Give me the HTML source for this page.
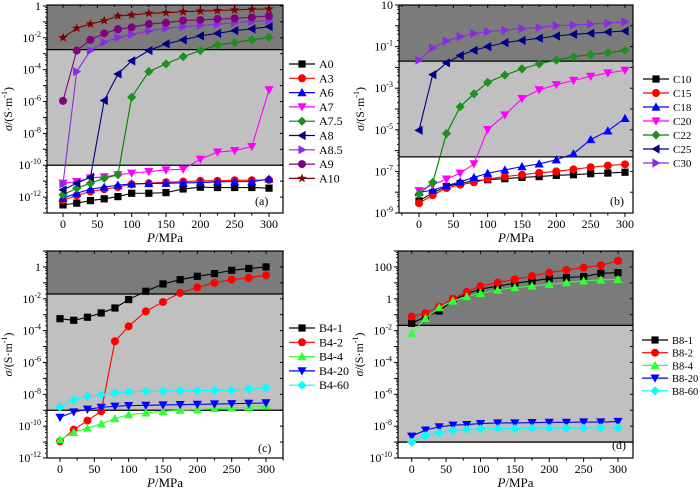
<!DOCTYPE html>
<html><head><meta charset="utf-8"><style>
body{margin:0;background:#fff}
svg{display:block;font-family:"Liberation Serif",serif}
</style></head><body>
<svg id="chart" width="700" height="493" viewBox="0 0 700 493" xmlns="http://www.w3.org/2000/svg"></svg>
<script>
const xValues=[0,20,40,60,80,100,125,150,175,200,225,250,275,300];
// Panel (a) log10 sigma
const aNames=["A0","A3","A6","A7","A7.5","A8","A8.5","A9","A10"];
const aA0=[-12.49,-12.38,-12.22,-12.11,-11.97,-11.76,-11.76,-11.72,-11.49,-11.38,-11.40,-11.40,-11.40,-11.44];
const aA3=[-12.2,-11.9,-11.65,-11.5,-11.38,-11.2,-11.13,-11.07,-11.03,-10.98,-10.98,-10.94,-10.94,-10.92];
const aA6=[-12.07,-11.76,-11.5,-11.38,-11.25,-11.17,-11.15,-11.13,-11.11,-11.09,-11.05,-11.03,-11.03,-10.86];
const aA7=[-11.13,-11.03,-10.8,-10.73,-10.6,-10.5,-10.4,-10.3,-10.25,-9.62,-9.18,-9.08,-8.83,-5.27];
const aA75=[-11.86,-11.44,-11.13,-10.82,-10.6,-5.73,-4.12,-3.64,-3.18,-2.8,-2.45,-2.3,-2.13,-1.97];
const aA8=[-11.55,-11.13,-10.75,-5.94,-4.27,-3.45,-2.8,-2.38,-2.13,-1.88,-1.72,-1.55,-1.44,-1.3];
const aA85=[-11.17,-4.12,-2.8,-2.28,-1.99,-1.78,-1.57,-1.4,-1.3,-1.23,-1.15,-1.05,-0.98,-0.92];
const aA9=[-5.96,-2.8,-2.13,-1.72,-1.46,-1.34,-1.13,-1.05,-0.92,-0.88,-0.82,-0.78,-0.71,-0.63];
const aA10=[-1.99,-1.4,-1.13,-0.92,-0.63,-0.57,-0.46,-0.42,-0.36,-0.32,-0.29,-0.25,-0.21,-0.19];
// Panel (b)
const bNames=["C10","C15","C18","C20","C22","C25","C30"];
const bC10=[-8.42,-8.03,-7.72,-7.58,-7.45,-7.4,-7.35,-7.29,-7.25,-7.19,-7.16,-7.11,-7.08,-7.04];
const bC15=[-8.53,-8.14,-7.8,-7.64,-7.53,-7.37,-7.25,-7.16,-7.07,-7.0,-6.9,-6.8,-6.72,-6.66];
const bC18=[-8.01,-7.9,-7.69,-7.5,-7.29,-7.09,-6.93,-6.77,-6.64,-6.44,-6.15,-5.47,-5.05,-4.45];
const bC20=[-7.93,-7.64,-7.37,-7.09,-6.64,-4.99,-4.29,-3.5,-3.08,-2.83,-2.63,-2.43,-2.27,-2.14];
const bC22=[-8.09,-7.53,-5.18,-3.89,-3.27,-2.72,-2.37,-2.07,-1.83,-1.65,-1.49,-1.38,-1.3,-1.18];
const bC25=[-5.02,-2.35,-1.78,-1.43,-1.18,-1.0,-0.81,-0.7,-0.6,-0.49,-0.41,-0.36,-0.3,-0.25];
const bC30=[-1.65,-1.06,-0.73,-0.52,-0.37,-0.28,-0.21,-0.13,-0.08,0.0,0.04,0.08,0.13,0.19];
// Panel (c)
const cNames=["B4-1","B4-2","B4-4","B4-20","B4-60"];
const cB41=[-3.25,-3.35,-3.16,-2.89,-2.58,-2.05,-1.53,-1.07,-0.8,-0.59,-0.42,-0.21,-0.1,0];
const cB42=[-10.95,-10.22,-9.65,-9.07,-4.67,-3.73,-2.79,-2.2,-1.63,-1.28,-1.0,-0.8,-0.69,-0.52];
const cB44=[-10.85,-10.39,-10.12,-9.86,-9.53,-9.28,-9.17,-9.07,-9.0,-8.96,-8.9,-8.86,-8.8,-8.71];
const cB420=[-9.45,-9.11,-8.94,-8.82,-8.75,-8.71,-8.69,-8.67,-8.65,-8.63,-8.61,-8.59,-8.57,-8.54];
const cB460=[-8.8,-8.36,-8.13,-8.02,-7.92,-7.85,-7.81,-7.79,-7.77,-7.77,-7.75,-7.75,-7.67,-7.6];
// Panel (d)
const dNames=["B8-1","B8-2","B8-4","B8-20","B8-60"];
const dB81=[-1.54,-1.14,-0.77,-0.1,0.32,0.6,0.8,0.97,1.12,1.27,1.33,1.39,1.6,1.64];
const dB82=[-1.12,-0.91,-0.49,0.01,0.43,0.8,1.01,1.22,1.43,1.64,1.81,1.96,2.1,2.38];
const dB84=[-2.19,-1.23,-0.56,-0.14,0.13,0.34,0.55,0.7,0.8,0.91,1.01,1.12,1.18,1.22];
const dB820=[-8.63,-8.25,-8.04,-7.94,-7.9,-7.84,-7.8,-7.8,-7.78,-7.76,-7.76,-7.74,-7.74,-7.71];
const dB860=[-9.01,-8.59,-8.42,-8.27,-8.21,-8.17,-8.15,-8.15,-8.13,-8.13,-8.12,-8.12,-8.1,-8.1];

const NS="http://www.w3.org/2000/svg";
const svg=document.getElementById('chart');
function mk(tag,attrs,parent){const e=document.createElementNS(NS,tag);for(const k in attrs)e.setAttribute(k,attrs[k]);(parent||svg).appendChild(e);return e;}

const panels=[
 {id:"a",L:47,R:283,T:5,B:213,x0:63,x300:269,ymin:-13,ymax:0.06,dark:-2.74,light:-10,
  labels:[[0,"1",null],[-2,"10","-2"],[-4,"10","-4"],[-6,"10","-6"],[-8,"10","-8"],[-10,"10","-10"],[-12,"10","-12"]],
  series:[[aA0,"#000","#000","square"],[aA3,"#ff0000","#ff0000","circle"],[aA6,"#0000ff","#0000ff","up"],[aA7,"#ff00ff","#ff00ff","down"],[aA75,"#008000","#1f8f1f","diamond"],[aA8,"#000080","#000080","left"],[aA85,"#8a2be2","#8a2be2","right"],[aA9,"#800080","#800080","circle"],[aA10,"#800000","#800000","star"]],
  names:aNames,legX:289,legY:64,legStep:14.3,legFont:12,tag:"(a)",tagX:255,tagY:205},
 {id:"b",L:399,R:633,T:5,B:213,x0:419,x300:625,ymin:-9,ymax:1,dark:-1.7,light:-6.3,
  labels:[[1,"10",null],[-1,"10","-1"],[-3,"10","-3"],[-5,"10","-5"],[-7,"10","-7"],[-9,"10","-9"]],
  series:[[bC10,"#000","#000","square"],[bC15,"#ff0000","#ff0000","circle"],[bC18,"#0000ff","#0000ff","up"],[bC20,"#ff00ff","#ff00ff","down"],[bC22,"#008000","#1f8f1f","diamond"],[bC25,"#000080","#000080","left"],[bC30,"#8a2be2","#8a2be2","right"]],
  names:bNames,legX:643,legY:79,legStep:14,legFont:11,tag:"(b)",tagX:610,tagY:205},
 {id:"c",L:47,R:283,T:251,B:458,x0:60,x300:266,ymin:-12,ymax:1,dark:-1.7,light:-9,
  labels:[[0,"1",null],[-2,"10","-2"],[-4,"10","-4"],[-6,"10","-6"],[-8,"10","-8"],[-10,"10","-10"],[-12,"10","-12"]],
  series:[[cB41,"#000","#000","square"],[cB42,"#ff0000","#ff0000","circle"],[cB44,"#33ff33","#33ff33","up"],[cB420,"#0000ff","#0000ff","down"],[cB460,"#00ffff","#00ffff","diamond"]],
  names:cNames,legX:289,legY:328,legStep:14.3,legFont:12,tag:"(c)",tagX:258,tagY:452},
 {id:"d",L:398,R:633,T:251,B:458,x0:411.7,x300:618,ymin:-10,ymax:3,dark:-1.67,light:-9,
  labels:[[2,"100",null],[0,"1",null],[-2,"10","-2"],[-4,"10","-4"],[-6,"10","-6"],[-8,"10","-8"],[-10,"10","-10"]],
  series:[[dB81,"#000","#000","square"],[dB82,"#ff0000","#ff0000","circle"],[dB84,"#33ff33","#33ff33","up"],[dB820,"#0000ff","#0000ff","down"],[dB860,"#00ffff","#00ffff","diamond"]],
  names:dNames,legX:642,legY:340,legStep:12.7,legFont:10.5,tag:"(d)",tagX:612,tagY:449}
];

function marker(g,shape,cx,cy,col){
 const s=3.6;let e;
 if(shape==="square")e=mk('rect',{x:cx-s,y:cy-s,width:2*s,height:2*s,fill:col},g);
 else if(shape==="circle")e=mk('circle',{cx:cx,cy:cy,r:s+0.4,fill:col},g);
 else{
  let p;
  if(shape==="up")p=[[0,-s-1],[s+1,s],[-s-1,s]];
  else if(shape==="down")p=[[0,s+1],[s+1,-s],[-s-1,-s]];
  else if(shape==="left")p=[[-s-1,0],[s,-s-1],[s,s+1]];
  else if(shape==="right")p=[[s+1,0],[-s,-s-1],[-s,s+1]];
  else if(shape==="diamond")p=[[0,-s-1],[s+1,0],[0,s+1],[-s-1,0]];
  else {p=[];for(let i=0;i<10;i++){const r=i%2?2:5,an=-Math.PI/2+i*Math.PI/5;p.push([r*Math.cos(an),r*Math.sin(an)]);}}
  e=mk('polygon',{points:p.map(q=>(cx+q[0])+","+(cy+q[1])).join(" "),fill:col},g);
 }
 return e;
}

panels.forEach(P=>{
 const g=mk('g',{});
 
 
 const sx=v=>P.x0+(P.x300-P.x0)*v/300;
 const sy=v=>P.T+(P.B-P.T)*(P.ymax-v)/(P.ymax-P.ymin);
 const yd=sy(P.dark), yl=sy(P.light);
 const r1=mk('rect',{x:P.L,y:P.T,width:P.R-P.L,height:yd-P.T,fill:"#7b7b7b"},g);
 
 
 const r2=mk('rect',{x:P.L,y:yd,width:P.R-P.L,height:yl-yd,fill:"#c0c0c0"},g);
 
 
 mk('line',{x1:P.L,x2:P.R,y1:yd,y2:yd,stroke:"#000","stroke-width":1.3},g);
 mk('line',{x1:P.L,x2:P.R,y1:yl,y2:yl,stroke:"#000","stroke-width":1.3},g);
 P.series.forEach((s,i)=>{
  const sg=mk('g',{},g);
  
  
  mk('polyline',{points:s[0].map((v,j)=>sx(xValues[j])+","+sy(v)).join(" "),fill:"none",stroke:s[1],"stroke-width":1.1},sg);
  s[0].forEach((v,j)=>{const m=marker(sg,s[3],sx(xValues[j]),sy(v),s[2]);
   
   });
 });
 mk('rect',{x:P.L,y:P.T,width:P.R-P.L,height:P.B-P.T,fill:"none",stroke:"#000","stroke-width":1.2},g);
 for(let v=-25;v<=325;v+=25){const x=sx(v);if(x<P.L-0.5||x>P.R+0.5)continue;
  const maj=v%50===0;
  mk('line',{x1:x,x2:x,y1:P.B,y2:P.B+(maj?4:2.5),stroke:"#000"},g);
  mk('line',{x1:x,x2:x,y1:P.T,y2:P.T+(maj?3:2),stroke:"#000"},g);
  if(maj&&v>=0&&v<=300){const t=mk('text',{x:x,y:P.B+15,"text-anchor":"middle","font-size":12},g);t.textContent=v;
   }
 }
 for(let d=Math.ceil(P.ymin);d<=Math.floor(P.ymax);d++){const y=sy(d);
  mk('line',{x1:P.L-4,x2:P.L,y1:y,y2:y,stroke:"#000"},g);
  mk('line',{x1:P.R,x2:P.R-3,y1:y,y2:y,stroke:"#000"},g);
  for(const f of [0.3,0.6,0.78,0.9]){const yy=sy(d+f);if(yy>P.T&&d+f<P.ymax){mk('line',{x1:P.L-2,x2:P.L,y1:yy,y2:yy,stroke:"#000","stroke-width":0.8},g);}}
 }
 P.labels.forEach(l=>{const t=mk('text',{x:P.L-6,y:sy(l[0])+4,"text-anchor":"end","font-size":12},g);
  
  t.textContent=l[1];
  if(l[2]){const sp=mk('tspan',{"font-size":8,dy:-5},t);sp.textContent=l[2];}
 });
 const xt=mk('text',{x:(P.L+P.R)/2,y:P.B+29,"text-anchor":"middle","font-size":13},g);
 
 const it=mk('tspan',{"font-style":"italic"},xt);it.textContent="P";
 const rt=mk('tspan',{},xt);rt.textContent="/MPa";
 const yt=mk('text',{x:0,y:0,"text-anchor":"middle","font-size":12,transform:`translate(${P.L-35},${(P.T+P.B)/2}) rotate(-90)`},g);
 
 const s1=mk('tspan',{"font-style":"italic"},yt);s1.textContent="σ";
 const s2=mk('tspan',{},yt);s2.textContent="/(S·m";
 const s3=mk('tspan',{"font-size":8,dy:-5},yt);s3.textContent="-1";
 const s4=mk('tspan',{dy:5},yt);s4.textContent=")";
 const tg=mk('text',{x:P.tagX,y:P.tagY,"font-size":12},g);tg.textContent=P.tag;
 
 P.series.forEach((s,i)=>{const lg=mk('g',{},g);
  
  
  const y=P.legY+i*P.legStep;
  mk('line',{x1:P.legX,x2:P.legX+26,y1:y,y2:y,stroke:s[1],"stroke-width":1.2},lg);
  marker(lg,s[3],P.legX+13,y,s[2]);
  const t=mk('text',{x:P.legX+30,y:y+4,"font-size":P.legFont},lg);t.textContent=P.names[i];});
});
</script>
</body></html>
